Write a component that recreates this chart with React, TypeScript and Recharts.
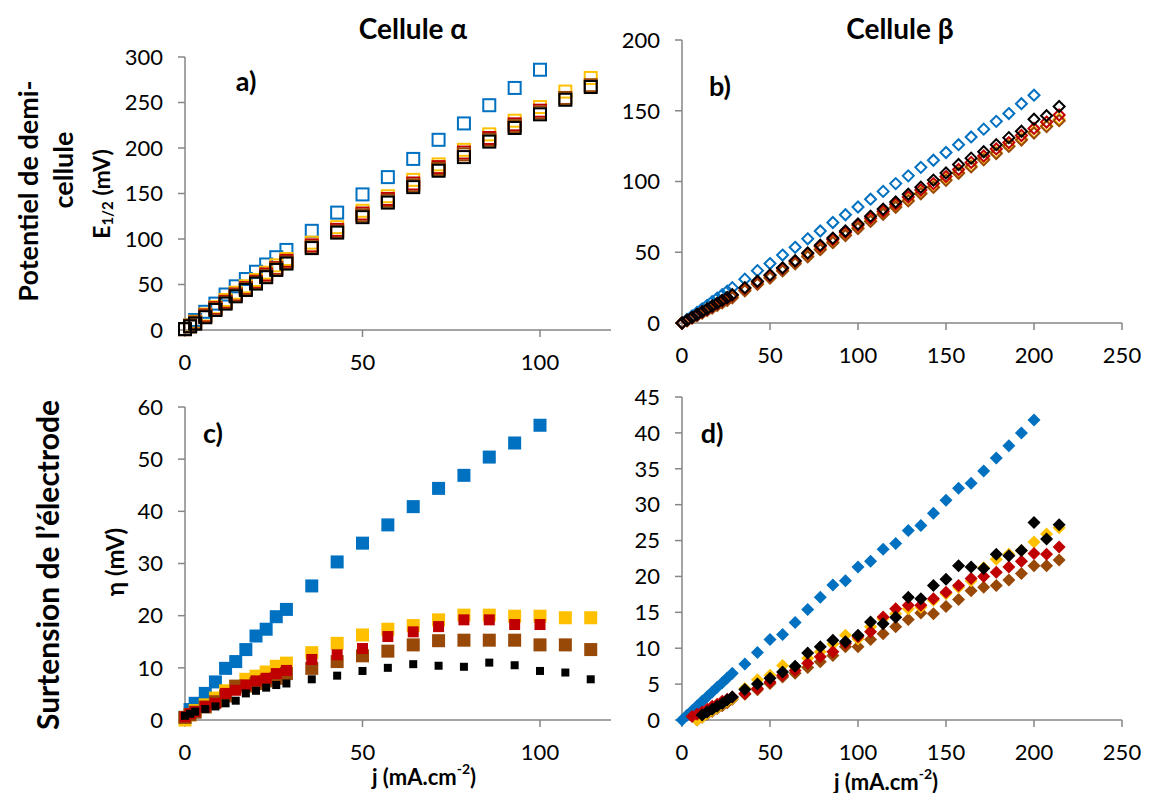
import React from 'react';
import { ScatterChart, Scatter, XAxis, YAxis } from 'recharts';

const BLUE = '#0070C0';
const YELLOW = '#FFC000';
const RED = '#C00000';
const BROWN = '#984807';
const BLACK = '#000000';
const AXIS = '#868686';
const FONT = 'Lato, "Open Sans", sans-serif';

// current density (mA.cm-2)
const jAlpha = [0, 1.43, 2.86, 5.71, 8.57, 11.43, 14.29, 17.14, 20, 22.86, 25.71, 28.57, 35.71, 42.86, 50, 57.14, 64.29, 71.43, 78.57, 85.71, 92.86, 100, 107.14, 114.29];
const jBeta = [0, 2.86, 5.71, 8.57, 11.43, 14.29, 17.14, 20, 22.86, 25.71, 28.57, 35.71, 42.86, 50, 57.14, 64.29, 71.43, 78.57, 85.71, 92.86, 100, 107.14, 114.29, 121.43, 128.57, 135.71, 142.86, 150, 157.14, 164.29, 171.43, 178.57, 185.71, 192.86, 200, 207.14, 214.29];

// a) E1/2 (mV), cellule alpha
const eBlueA = [1, 5, 11, 20, 29, 39, 48, 56, 64, 72, 80, 88, 109, 129, 149, 168, 188, 209, 227, 247, 266, 286, null, null];
const eYellowA = [1, 5, 9, 17, 25, 33, 41, 48, 55, 63, 71, 78, 96, 113, 131, 147, 165, 182, 198, 215, 230, 245, 262, 277];
const eRedA = [1, 4.5, 8, 16, 24, 31, 39, 46, 53, 61, 68, 76, 93, 110, 128, 144, 161, 179, 195, 211, 226, 241, null, null];
const eBrownA = [1, 4, 8, 15, 23, 30, 38, 45, 52, 59, 67, 74, 91, 108, 126, 142, 159, 177, 193, 209, 224, 239, 255, 269];
const eBlackA = [1, 4, 7, 14, 22, 29, 37, 44, 51, 58, 66, 73, 90, 107, 124, 140, 157, 175, 190, 207, 222, 237, 253, 267];

// b) E1/2 (mV), cellule beta
const eBlueB = [0, 2.5, 5, 7.5, 10, 12.5, 15, 17.5, 20, 22.5, 25, 31, 37, 42, 48, 53.5, 59.5, 65, 71, 76.5, 82, 87.5, 93, 98.5, 104, 110, 115, 120.5, 126, 131.5, 137, 142.5, 148, 155, 161, null, null];
const eYellowB = [0, 1.7, 3.6, 5.5, 7.4, 9.3, 11.2, 13.1, 15, 16.9, 18.8, 23.5, 28, 32.5, 37.5, 42.5, 47.5, 52.5, 57.5, 62.5, 67.5, 72.5, 77.5, 82.5, 87, 92, 96.5, 101.5, 106.5, 111, 116, 120.5, 125.5, 130, 135, 139.5, 144];
const eBrownB = [0, 1.6, 3.4, 5.2, 7, 8.8, 10.6, 12.4, 14.2, 16, 17.8, 22.8, 27.3, 31.8, 36.8, 41.8, 46.8, 51.8, 56.8, 61.8, 66.8, 71.8, 76.8, 81.8, 86.3, 91.3, 95.8, 100.8, 105.8, 110.3, 115.3, 119.8, 124.8, 129.3, 134.3, 138.8, 143];
const eRedB = [0, 1.8, 3.8, 5.8, 7.8, 9.8, 11.8, 13.7, 15.7, 17.6, 19.6, 24.5, 29, 33.5, 38.5, 43.5, 49, 54, 59, 64, 69, 74, 79, 84, 89, 94, 98.5, 103.5, 108.5, 113.5, 118, 123, 127.5, 132.5, 137.5, 142, 147];
const eBlackB = [0, 2, 4, 6, 8, 10, 12, 14, 16, 18, 20, 25, 29.5, 34, 39, 44, 49.5, 55, 60, 65, 70, 75.5, 80.5, 85.5, 91, 96, 101, 106, 112, 116.5, 121, 126, 131, 135.5, 144, 146.5, 153];

// c) eta (mV), cellule alpha
const etaBlueC = [0.5, 2, 3.2, 5.1, 7.3, 9.9, 11.2, 13.5, 16.1, 17.4, 19.8, 21.2, 25.7, 30.3, 33.9, 37.4, 40.9, 44.4, 46.9, 50.4, 53.1, 56.5, null, null];
const etaYellowC = [0, 1, 1.8, 2.9, 4.2, 5.6, 6.4, 7.8, 8.4, 9.2, 10.3, 10.9, 12.9, 14.7, 16.3, 17.4, 18.1, 19.2, 20.1, 20.1, 19.9, 19.9, 19.6, 19.6];
const etaBrownC = [0.5, 1, 1.5, 2.5, 3.5, 4.6, 6.5, 6.5, 7, 7.5, 8, 8.9, 9.9, 11.2, 12.3, 13.2, 14.4, 15.2, 15.3, 15.3, 15.3, 14.4, 14.4, 13.5];
const etaRedC = [0.6, 1.2, 1.6, 2.6, 3.2, 5.1, 5.7, 6.7, 7.5, 8.0, 8.9, 9.5, 11.6, 12.5, 13.7, 16.0, 16.9, 17.9, 19.2, 19.2, 18.3, 18.3, null, null];
const etaBlackC = [0.8, 1.2, 1.6, 2.1, 2.6, 3.2, 3.7, 5.1, 5.6, 6.2, 6.7, 7.0, 7.8, 8.5, 9.4, 10.0, 10.7, 10.4, 10.2, 11.0, 10.5, 9.4, 9.1, 7.8];

// d) eta (mV), cellule beta
const etaBlueD = [0, 0.65, 1.3, 1.95, 2.6, 3.25, 3.9, 4.55, 5.2, 5.85, 6.5, 7.8, 9.4, 11.2, 11.9, 13.6, 15.4, 17.1, 18.8, 19.4, 21.3, 22.1, 23.8, 24.6, 26.4, 27.1, 28.8, 30.6, 32.3, 33, 34.7, 36.5, 38.2, 40, 41.8, null, null];
const etaBrownD = [null, null, null, 0, 0.4, 0.8, 1.2, 1.6, 2, 2.4, 2.9, 3.6, 4.2, 5.1, 6.0, 6.5, 7.3, 8.1, 9.0, 10.2, 10.2, 11.2, 12, 13, 14, 14.9, 14.8, 15.8, 16.8, 18, 18.5, 18.75, 19.5, 20.4, 21.5, 21.5, 22.3];
const etaYellowD = [null, null, null, 0, 0.4, 0.9, 1.3, 1.7, 2.2, 2.6, 3.0, 4.4, 5.6, 6.25, 7.6, 7.4, 8.6, 9.5, 10.6, 11.8, 11.3, 13, 14.1, 14.8, 15.5, 15.7, 16.7, 17.6, 18.5, 19.4, 21.2, 22.4, 23.1, 23.6, 24.8, 25.9, 26.8];
const etaRedD = [null, null, 0.5, 0.8, 1.1, 1.5, 1.9, 2.2, 2.6, 2.9, 3.2, 3.7, 4.4, 5.3, 6.25, 6.9, 7.9, 8.8, 9.5, 10.65, 11.6, 12.3, 14.35, 15.5, 16, 16, 16.9, 17.8, 18.75, 19.7, 20, 20.6, 21.3, 22.1, 23.2, 23.1, 24.1];
const etaBlackD = [null, null, null, null, 0.7, 1.1, 1.5, 1.9, 2.3, 2.8, 3.2, 4.25, 5.0, 5.8, 6.7, 7.5, 9.35, 10.2, 11.1, 10.9, 11.8, 13.65, 13.4, 14.3, 17.1, 16.9, 18.75, 19.6, 21.5, 21.3, 21.1, 23.1, 22.9, 23.6, 27.5, 25.2, 27.2];

const ticksAlphaX = [0, 50, 100];
const ticksBetaX = [0, 50, 100, 150, 200, 250];
const ticksA = [0, 50, 100, 150, 200, 250, 300];
const ticksB = [0, 50, 100, 150, 200];
const ticksC = [0, 10, 20, 30, 40, 50, 60];
const ticksD = [0, 5, 10, 15, 20, 25, 30, 35, 40, 45];

type Pt = { x: number; y: number };
const pts = (xs: number[], ys: (number | null)[]): Pt[] =>
  xs.map((x, i) => ({ x, y: ys[i] as number })).filter((p) => p.y !== null && p.y !== undefined);

const square = (color: string, size: number, hollow: boolean) => (p: any) => {
  const { cx, cy } = p;
  if (cx == null || cy == null) return <g />;
  const s = hollow ? size - 2 : size;
  return (
    <rect
      x={cx - s / 2}
      y={cy - s / 2}
      width={s}
      height={s}
      fill={hollow ? 'none' : color}
      stroke={hollow ? color : 'none'}
      strokeWidth={hollow ? 2 : 0}
    />
  );
};

const diamond = (color: string, size: number, hollow: boolean) => (p: any) => {
  const { cx, cy } = p;
  if (cx == null || cy == null) return <g />;
  const h = hollow ? size / 2 - 1 : size / 2;
  const d = `M${cx},${cy - h}L${cx + h},${cy}L${cx},${cy + h}L${cx - h},${cy}Z`;
  return <path d={d} fill={hollow ? 'none' : color} stroke={hollow ? color : 'none'} strokeWidth={hollow ? 2 : 0} />;
};

type Series = { data: Pt[]; shape: (p: any) => React.ReactElement };

const YW = 70;
const XH = 50;
const PAD = 14;
const RIGHT = 34;

function Panel(props: {
  px: number; py: number; pw: number; ph: number;
  xMax: number; xTicks: number[]; yMax: number; yTicks: number[]; series: Series[];
}) {
  const { px, py, pw, ph, xMax, xTicks, yMax, yTicks, series } = props;
  const tick = { fill: '#000', fontSize: 22, fontFamily: FONT };
  return (
    <div style={{ position: 'absolute', left: px - YW, top: py - PAD }}>
      <ScatterChart width={YW + pw + RIGHT} height={PAD + ph + XH} margin={{ top: PAD, right: RIGHT, bottom: 0, left: 0 }}>
        <XAxis
          type="number" dataKey="x" domain={[0, xMax]} ticks={xTicks} height={XH} interval={0}
          axisLine={{ stroke: AXIS, strokeWidth: 1.5 }} tickLine={{ stroke: AXIS, strokeWidth: 1.5 }}
          tickSize={7} tickMargin={17} tick={tick}
        />
        <YAxis
          type="number" dataKey="y" domain={[0, yMax]} ticks={yTicks} width={YW} interval={0}
          axisLine={{ stroke: AXIS, strokeWidth: 1.5 }} tickLine={{ stroke: AXIS, strokeWidth: 1.5 }}
          tickSize={7} tickMargin={15} tick={tick}
        />
        {series.map((s, i) => (
          <Scatter key={i} data={s.data} shape={s.shape as any} isAnimationActive={false} />
        ))}
      </ScatterChart>
    </div>
  );
}

export default function App() {
  const seriesA: Series[] = [
    { data: pts(jAlpha, eBlueA), shape: square(BLUE, 14, true) },
    { data: pts(jAlpha, eYellowA), shape: square(YELLOW, 14, true) },
    { data: pts(jAlpha, eRedA), shape: square(RED, 14, true) },
    { data: pts(jAlpha, eBrownA), shape: square(BROWN, 14, true) },
    { data: pts(jAlpha, eBlackA), shape: square(BLACK, 14, true) },
  ];
  const seriesB: Series[] = [
    { data: pts(jBeta, eBlueB), shape: diamond(BLUE, 13, true) },
    { data: pts(jBeta, eYellowB), shape: diamond(YELLOW, 13, true) },
    { data: pts(jBeta, eBrownB), shape: diamond(BROWN, 13, true) },
    { data: pts(jBeta, eRedB), shape: diamond(RED, 13, true) },
    { data: pts(jBeta, eBlackB), shape: diamond(BLACK, 13, true) },
  ];
  const seriesC: Series[] = [
    { data: pts(jAlpha, etaBlueC), shape: square(BLUE, 13, false) },
    { data: pts(jAlpha, etaYellowC), shape: square(YELLOW, 13, false) },
    { data: pts(jAlpha, etaBrownC), shape: square(BROWN, 13, false) },
    { data: pts(jAlpha, etaRedC), shape: square(RED, 11, false) },
    { data: pts(jAlpha, etaBlackC), shape: square(BLACK, 8, false) },
  ];
  const seriesD: Series[] = [
    { data: pts(jBeta, etaBlueD), shape: diamond(BLUE, 13, false) },
    { data: pts(jBeta, etaBrownD), shape: diamond(BROWN, 13, false) },
    { data: pts(jBeta, etaYellowD), shape: diamond(YELLOW, 13, false) },
    { data: pts(jBeta, etaRedD), shape: diamond(RED, 13, false) },
    { data: pts(jBeta, etaBlackD), shape: diamond(BLACK, 13, false) },
  ];

  const bold = { fontFamily: FONT, fontWeight: 700, fill: '#000' } as const;

  return (
    <div style={{ position: 'absolute', left: 0, top: 0, width: 1150, height: 793, background: '#fff', overflow: 'hidden' }}>
      <Panel px={185} py={57} pw={426} ph={273} xMax={120} xTicks={ticksAlphaX} yMax={300} yTicks={ticksA} series={seriesA} />
      <Panel px={682} py={40} pw={440} ph={283} xMax={250} xTicks={ticksBetaX} yMax={200} yTicks={ticksB} series={seriesB} />
      <Panel px={185} py={407} pw={426} ph={313} xMax={120} xTicks={ticksAlphaX} yMax={60} yTicks={ticksC} series={seriesC} />
      <Panel px={682} py={397} pw={440} ph={323} xMax={250} xTicks={ticksBetaX} yMax={45} yTicks={ticksD} series={seriesD} />
      <svg width={1150} height={793} style={{ position: 'absolute', left: 0, top: 0, pointerEvents: 'none' }}>
        <text x={413} y={28} textAnchor="middle" dominantBaseline="central" fontSize={28} {...bold}>Cellule α</text>
        <text x={900} y={28} textAnchor="middle" dominantBaseline="central" fontSize={28} {...bold}>Cellule β</text>
        <text x={246} y={80} textAnchor="middle" dominantBaseline="central" fontSize={27} {...bold}>a)</text>
        <text x={720} y={85} textAnchor="middle" dominantBaseline="central" fontSize={27} {...bold}>b)</text>
        <text x={213} y={432} textAnchor="middle" dominantBaseline="central" fontSize={27} {...bold}>c)</text>
        <text x={712} y={432} textAnchor="middle" dominantBaseline="central" fontSize={27} {...bold}>d)</text>
        <text transform="translate(27,191) rotate(-90)" textAnchor="middle" dominantBaseline="central" fontSize={27} {...bold}>Potentiel de demi-</text>
        <text transform="translate(62,170) rotate(-90)" textAnchor="middle" dominantBaseline="central" fontSize={27} {...bold}>cellule</text>
        <text transform="translate(47,565) rotate(-90)" textAnchor="middle" dominantBaseline="central" fontSize={30} {...bold}>Surtension de l’électrode</text>
        <text transform="translate(101,194) rotate(-90)" textAnchor="middle" dominantBaseline="central" fontSize={23} {...bold}>
          E<tspan dy={6} fontSize={15}>1/2</tspan><tspan dy={-6}> (mV)</tspan>
        </text>
        <text transform="translate(114,562) rotate(-90)" textAnchor="middle" dominantBaseline="central" fontSize={24} {...bold}>η (mV)</text>
        <text x={424} y={776} textAnchor="middle" dominantBaseline="central" fontSize={22} {...bold}>
          j (mA.cm<tspan dy={-8} fontSize={14}>-2</tspan><tspan dy={8}>)</tspan>
        </text>
        <text x={886} y={781} textAnchor="middle" dominantBaseline="central" fontSize={22} {...bold}>
          j (mA.cm<tspan dy={-8} fontSize={14}>-2</tspan><tspan dy={8}>)</tspan>
        </text>
      </svg>
    </div>
  );
}
